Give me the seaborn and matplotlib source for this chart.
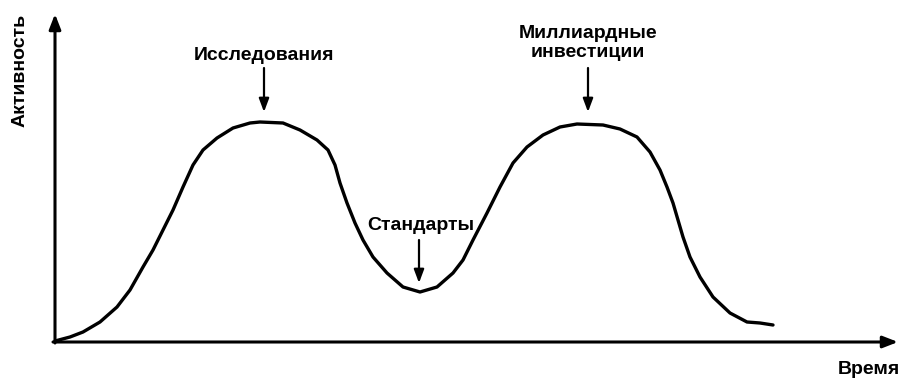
import matplotlib
matplotlib.use("Agg")
import matplotlib.pyplot as plt
import seaborn as sns
import pandas as pd

# Data (time units, activity units)
time = [0, 15, 28, 45, 62, 75, 88, 98, 108, 118, 128, 138, 148, 162, 178,
        195, 205, 228, 245, 262, 273, 280, 285, 292, 300, 308, 318, 332, 348,
        365, 382, 398, 408, 418, 432, 445, 458, 472, 488, 505, 522, 548, 565,
        582, 595, 605, 612, 618, 623, 628, 635, 645, 658, 675, 692, 705, 718]
activity = [1, 5, 10, 20, 35, 52, 75, 92, 112, 132, 155, 177, 192, 204, 214,
            219, 220, 219, 212, 202, 192, 177, 159, 139, 119, 102, 85, 69, 55,
            50, 55, 69, 82, 102, 129, 155, 179, 195, 207, 215, 218, 217, 213,
            205, 190, 172, 155, 139, 122, 105, 85, 65, 45, 29, 20, 19, 17]

annot_labels = ["Исследования", "Стандарты", "Миллиардные\nинвестиции"]
annot_x = [209, 364, 533]
x_label = "Время"
y_label = "Активность"

sns.set_style("white")
plt.rcParams['font.family'] = ['Liberation Sans', 'DejaVu Sans']

df = pd.DataFrame({"time": time, "activity": activity})

fig = plt.figure(figsize=(9.02, 3.79), dpi=100)
ax = fig.add_axes([0, 0, 1, 1])
sns.lineplot(data=df, x="time", y="activity", ax=ax, color="black",
             linewidth=2.4, sort=False, solid_joinstyle="round",
             solid_capstyle="round")
ax.set_xlim(-55, 847)
ax.set_ylim(-37, 342)
ax.set_axis_off()

# axes with arrows
ax.annotate("", xy=(843, 0), xytext=(-2, 0),
            arrowprops=dict(arrowstyle="-|>,head_length=0.9,head_width=0.35",
                            color="black", lw=2.2, shrinkA=0, shrinkB=0))
ax.annotate("", xy=(0, 328), xytext=(0, -1),
            arrowprops=dict(arrowstyle="-|>,head_length=0.9,head_width=0.35",
                            color="black", lw=2.2, shrinkA=0, shrinkB=0))

fs = 14
tkw = dict(fontsize=fs, fontweight="bold", color="black", ha="center")
akw = dict(arrowstyle="-|>,head_length=0.8,head_width=0.3",
           color="black", lw=1.6, shrinkA=0, shrinkB=0)

# Исследования
ax.text(annot_x[0], 287, annot_labels[0], va="center", **tkw)
ax.annotate("", xy=(annot_x[0], 230), xytext=(annot_x[0], 274), arrowprops=akw)
# Стандарты
ax.text(annot_x[1] + 2, 117, annot_labels[1], va="center", **tkw)
ax.annotate("", xy=(annot_x[1], 59), xytext=(annot_x[1], 102), arrowprops=akw)
# Миллиардные инвестиции
ax.text(annot_x[2], 299, annot_labels[2], va="center", linespacing=1.2, **tkw)
ax.annotate("", xy=(annot_x[2], 230), xytext=(annot_x[2], 274), arrowprops=akw)

ax.text(-35, 272, y_label, rotation=90, va="center", **tkw)
ax.text(814, -28, x_label, va="center", **tkw)

fig.savefig("out.png", dpi=100)
